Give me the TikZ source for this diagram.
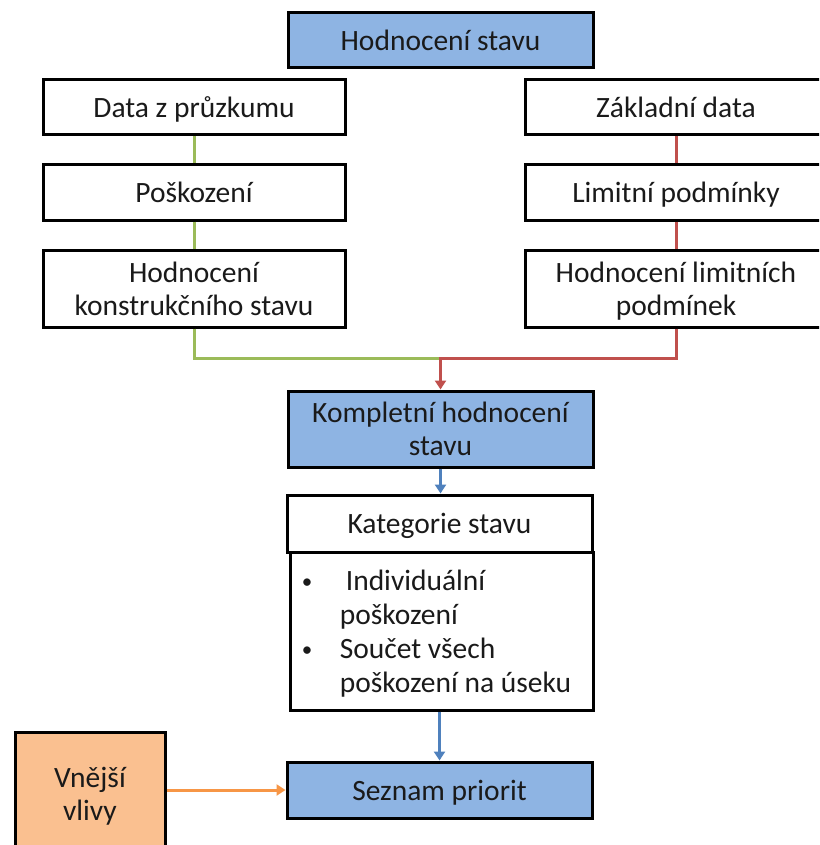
\documentclass[tikz,border=0pt]{standalone}
\usepackage{fontspec}
\setmainfont{Carlito}
\usetikzlibrary{arrows.meta}
\definecolor{boxblue}{HTML}{8EB4E3}
\definecolor{boxorange}{HTML}{FAC090}
\definecolor{lgreen}{HTML}{9BBB59}
\definecolor{lred}{HTML}{C0504D}
\definecolor{lblue}{HTML}{4F81BD}
\definecolor{lorange}{HTML}{F79646}
\definecolor{txt}{HTML}{1A1A1A}
\newcommand{\bul}{\makebox[44pt][l]{\hspace{6pt}\raisebox{2pt}{\fontsize{21}{21}\selectfont•}}}
\tikzset{
  base/.style={draw=black, line width=3pt, inner sep=0pt, align=center, text=txt,
    text depth=0pt, font=\fontsize{29.5}{33}\selectfont},
  wbox/.style={base, fill=white, minimum width=302pt},
  bbox/.style={base, fill=boxblue, minimum width=305pt},
  obox/.style={base, fill=boxorange, minimum width=150pt, minimum height=124pt},
  conn/.style={line width=3pt},
  tip/.style={-{Triangle[length=9pt,width=11pt]}}
}
\begin{document}
\begin{tikzpicture}[x=1pt,y=-1pt]
\useasboundingbox (0,0) rectangle (819,845);
\clip (0,0) rectangle (819,845);
\fill[white] (0,0) rectangle (819,845);
% nodes
\node[bbox, minimum height=55pt] (top) at (440.5,40.5) {Hodnocení stavu};
\node[wbox, minimum height=55pt] (dz) at (194,107.5) {Data z průzkumu};
\node[wbox, minimum height=55pt] (po) at (194,192.5) {Poškození};
\node[wbox, minimum height=77pt] (hk) at (194,288.5) {Hodnocení\\konstrukčního stavu};
\node[wbox, minimum height=55pt] (zd) at (676,107.5) {Základní data};
\node[wbox, minimum height=55pt] (lp) at (676,192.5) {Limitní podmínky};
\node[wbox, minimum height=77pt] (hl) at (676,288.5) {Hodnocení limitních\\podmínek};
\node[bbox, minimum height=76pt] (kh) at (440.5,429) {Kompletní hodnocení\\stavu};
\node[wbox, minimum width=305pt, minimum height=57pt] (ks) at (439.5,523.5) {Kategorie stavu};
\node[wbox, minimum width=303pt, minimum height=158pt, align=left,
      font=\fontsize{29.5}{34}\selectfont] (bl) at (441.5,631)
  {\bul\hspace{6pt}Individuální\\
   \hspace*{44pt}poškození\\
   \bul Součet všech\\
   \hspace*{44pt}poškození na úseku\hspace*{16pt}};
\node[bbox, minimum height=56pt] (sp) at (439.5,790) {Seznam priorit};
\node[obox] (vv) at (90,794) {Vnější\\vlivy};
\coordinate (mid) at (440.5,358);
% connectors
\draw[conn, lgreen] (dz.south) -- (po.north);
\draw[conn, lgreen] (po.south) -- (hk.north);
\draw[conn, lred] (zd.south) -- (lp.north);
\draw[conn, lred] (lp.south) -- (hl.north);
\draw[conn, lgreen] (hk.south) |- (mid);
\draw[conn, lred, tip] (hl.south) |- (mid) -- (kh.north);
\draw[conn, lblue, tip] (kh.south) -- (ks.north -| kh.south);
\draw[conn, lblue, tip] (bl.south -| sp.north) -- (sp.north);
\draw[conn, lorange, tip] (vv.east |- sp.west) -- (sp.west);
\end{tikzpicture}
\end{document}
